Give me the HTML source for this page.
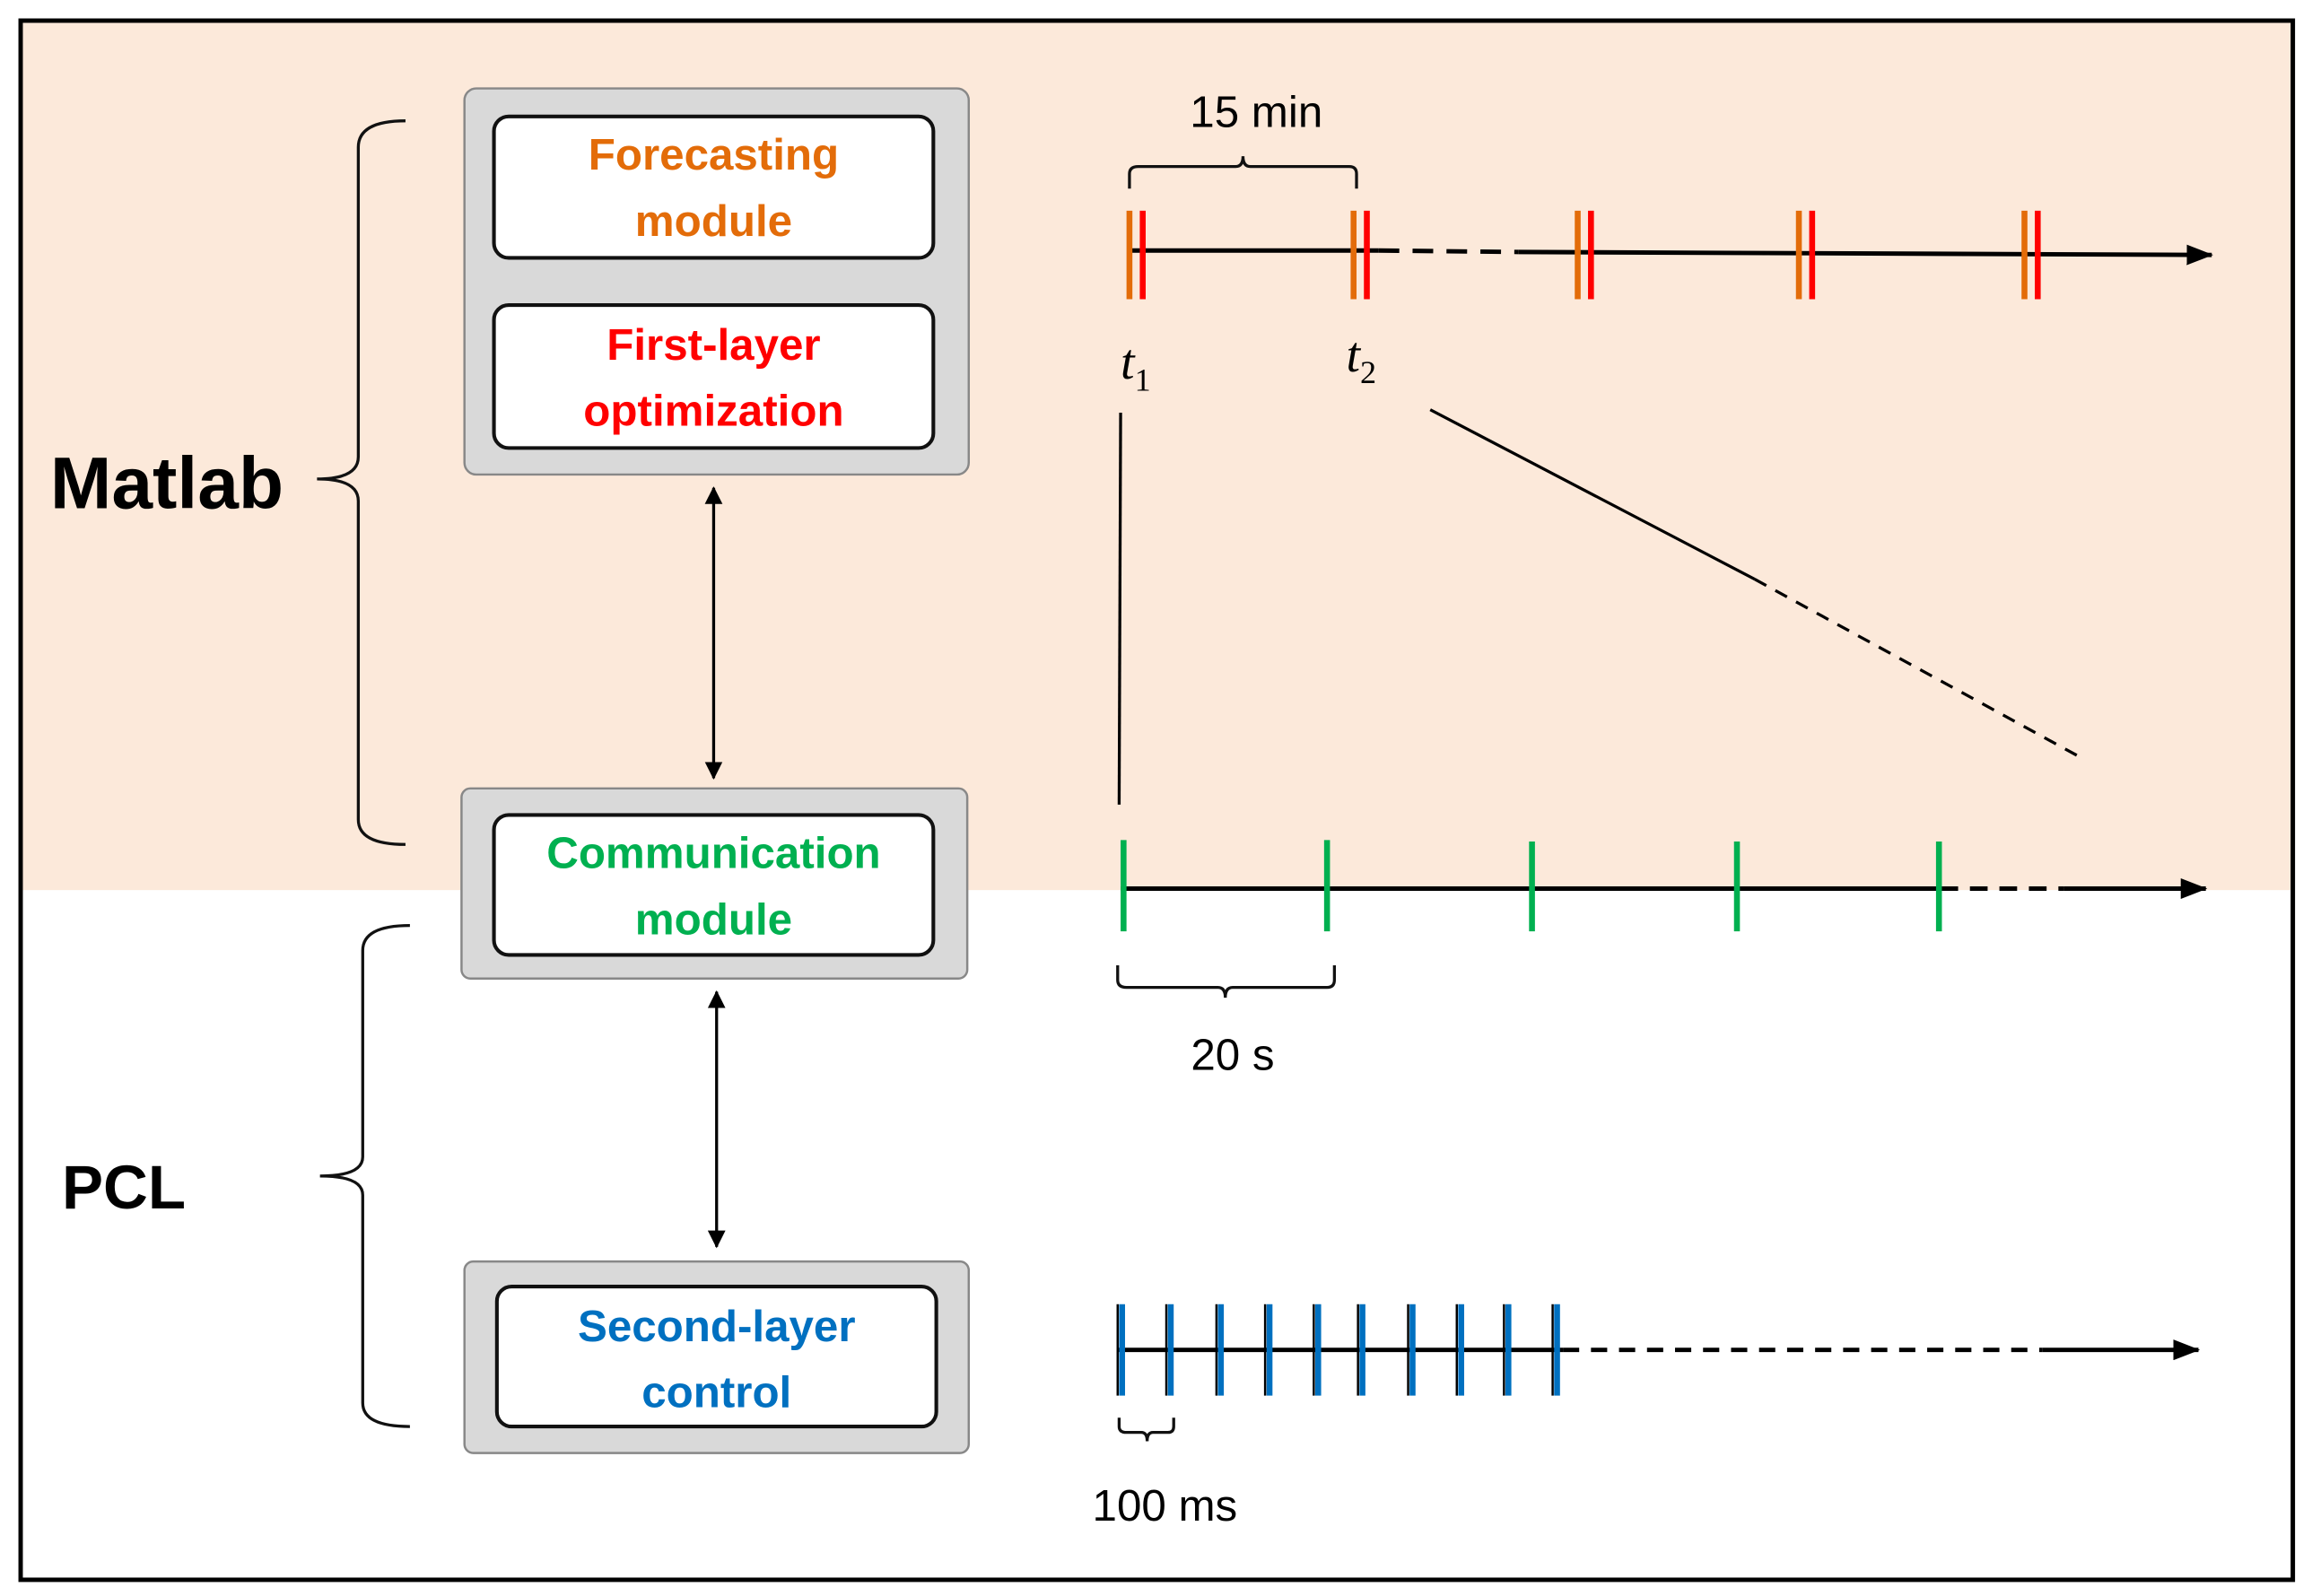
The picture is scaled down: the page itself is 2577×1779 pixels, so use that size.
<!DOCTYPE html>
<html><head><meta charset="utf-8"><style>html,body{margin:0;padding:0;background:#fff}svg{display:block}</style></head>
<body>
<svg width="2577" height="1779" viewBox="0 0 1568 1083" preserveAspectRatio="none" xmlns="http://www.w3.org/2000/svg" font-family="'Liberation Sans', sans-serif">
<defs>
<marker id="ah" markerWidth="12" markerHeight="12" refX="11" refY="6" orient="auto-start-reverse" markerUnits="userSpaceOnUse"><path d="M0,0 L12,6 L0,12 z" fill="#000"/></marker>
<marker id="ah2" markerWidth="18" markerHeight="14" refX="17" refY="7" orient="auto" markerUnits="userSpaceOnUse"><path d="M0,0 L18,7 L0,14 z" fill="#000"/></marker>
</defs>
<rect x="0" y="0" width="1568" height="1083" fill="#fff"/>
<rect x="14" y="14" width="1541" height="590" fill="#fce9da"/>
<rect x="14" y="14" width="1541" height="1058" fill="none" stroke="#000" stroke-width="3"/>

<g stroke="#888" stroke-width="1.5" fill="#d9d9d9">
<rect x="315" y="60" width="342" height="262" rx="8"/>
<rect x="313" y="535" width="343" height="129" rx="6"/>
<rect x="315" y="856" width="342" height="130" rx="6"/>
</g>
<g stroke="#111" stroke-width="2.5" fill="#fff">
<rect x="335" y="79" width="298" height="96" rx="10"/>
<rect x="335" y="207" width="298" height="97" rx="10"/>
<rect x="335" y="553" width="298" height="95" rx="10"/>
<rect x="337" y="873" width="298" height="95" rx="10"/>
</g>
<g font-weight="bold" font-size="30" text-anchor="middle">
<text x="484" y="115" fill="#e36c09">Forecasting</text>
<text x="484" y="160" fill="#e36c09">module</text>
<text x="484" y="244" fill="#ff0000">First-layer</text>
<text x="484" y="289" fill="#ff0000">optimization</text>
<text x="484" y="589" fill="#00b050">Communication</text>
<text x="484" y="634" fill="#00b050">module</text>
<text x="486" y="910" fill="#0070c0">Second-layer</text>
<text x="486" y="955" fill="#0070c0">control</text>
</g>
<text x="34" y="345" font-size="50" font-weight="bold">Matlab</text>
<text x="42" y="820" font-size="42" font-weight="bold">PCL</text>

<g fill="none" stroke="#111" stroke-width="2">
<path d="M275,82 Q243,82 243,100 L243,310 Q243,325 215,325 Q243,325 243,340 L243,556 Q243,573 275,573"/>
<path d="M278,628 Q246,628 246,645 L246,785 Q246,798 217,798 Q246,798 246,811 L246,952 Q246,968 278,968"/>
</g>

<g stroke="#000" stroke-width="2">
<line x1="484" y1="331" x2="484" y2="528" marker-start="url(#ah)" marker-end="url(#ah)"/>
<line x1="486" y1="673" x2="486" y2="846" marker-start="url(#ah)" marker-end="url(#ah)"/>
</g>

<g stroke="#000" stroke-width="3">
<line x1="765" y1="170" x2="935" y2="170"/>
<line x1="935" y1="170" x2="1030" y2="171" stroke-dasharray="14,9"/>
<line x1="1030" y1="171" x2="1500" y2="173" marker-end="url(#ah2)"/>
</g>
<g stroke-width="4">
<g stroke="#e36c09"><line x1="766" y1="143" x2="766" y2="203"/><line x1="918" y1="143" x2="918" y2="203"/><line x1="1070" y1="143" x2="1070" y2="203"/><line x1="1220" y1="143" x2="1220" y2="203"/><line x1="1373" y1="143" x2="1373" y2="203"/></g>
<g stroke="#ff0000"><line x1="775" y1="143" x2="775" y2="203"/><line x1="927" y1="143" x2="927" y2="203"/><line x1="1079" y1="143" x2="1079" y2="203"/><line x1="1229" y1="143" x2="1229" y2="203"/><line x1="1382" y1="143" x2="1382" y2="203"/></g>
</g>
<path d="M766,128 L766,118 Q766,113 772,113 L838,113 Q843,113 843,106 Q843,113 848,113 L915,113 Q920,113 920,118 L920,128" fill="none" stroke="#111" stroke-width="2"/>
<text x="852" y="86" font-size="30" text-anchor="middle">15 min</text>
<text x="760" y="257" font-size="34" font-style="italic" font-family="'Liberation Serif', serif">t<tspan font-size="22" dy="8" font-style="normal">1</tspan></text>
<text x="913" y="252" font-size="34" font-style="italic" font-family="'Liberation Serif', serif">t<tspan font-size="22" dy="8" font-style="normal">2</tspan></text>
<g stroke="#000" stroke-width="2">
<line x1="760" y1="280" x2="759" y2="546"/>
<line x1="970" y1="278" x2="1190" y2="393"/>
<line x1="1190" y1="393" x2="1413" y2="515" stroke-dasharray="9,7"/>
</g>

<g stroke="#000" stroke-width="3">
<line x1="760" y1="603" x2="1316" y2="603"/>
<line x1="1316" y1="603" x2="1400" y2="603" stroke-dasharray="12,8"/>
<line x1="1400" y1="603" x2="1496" y2="603" marker-end="url(#ah2)"/>
</g>
<g stroke="#00b050" stroke-width="4">
<line x1="762" y1="570" x2="762" y2="632"/><line x1="900" y1="570" x2="900" y2="632"/><line x1="1039" y1="571" x2="1039" y2="632"/><line x1="1178" y1="571" x2="1178" y2="632"/><line x1="1315" y1="571" x2="1315" y2="632"/>
</g>
<path d="M758,655 L758,665 Q758,670 764,670 L826,670 Q831,670 831,677 Q831,670 836,670 L900,670 Q905,670 905,665 L905,655" fill="none" stroke="#111" stroke-width="2"/>
<text x="836" y="726" font-size="30" text-anchor="middle">20 s</text>

<g stroke="#000" stroke-width="3">
<line x1="758" y1="916" x2="1060" y2="916"/>
<line x1="1060" y1="916" x2="1385" y2="916" stroke-dasharray="11,8"/>
<line x1="1385" y1="916" x2="1491" y2="916" marker-end="url(#ah2)"/>
</g>
<g stroke="#0070c0" stroke-width="4">
<line x1="761" y1="885" x2="761" y2="947"/><line x1="794" y1="885" x2="794" y2="947"/><line x1="828" y1="885" x2="828" y2="947"/><line x1="861" y1="885" x2="861" y2="947"/><line x1="894" y1="885" x2="894" y2="947"/><line x1="924" y1="885" x2="924" y2="947"/><line x1="958" y1="885" x2="958" y2="947"/><line x1="991" y1="885" x2="991" y2="947"/><line x1="1023" y1="885" x2="1023" y2="947"/><line x1="1056" y1="885" x2="1056" y2="947"/>
</g>
<g stroke="#000" stroke-width="1.5">
<line x1="758" y1="885" x2="758" y2="947"/><line x1="791" y1="885" x2="791" y2="947"/><line x1="825" y1="885" x2="825" y2="947"/><line x1="858" y1="885" x2="858" y2="947"/><line x1="891" y1="885" x2="891" y2="947"/><line x1="921" y1="885" x2="921" y2="947"/><line x1="955" y1="885" x2="955" y2="947"/><line x1="988" y1="885" x2="988" y2="947"/><line x1="1020" y1="885" x2="1020" y2="947"/><line x1="1053" y1="885" x2="1053" y2="947"/>
</g>
<path d="M759,962 L759,968 Q759,972 764,972 L774,972 Q778,972 778,978 Q778,972 782,972 L792,972 Q796,972 796,968 L796,962" fill="none" stroke="#111" stroke-width="2"/>
<text x="790" y="1032" font-size="30" text-anchor="middle">100 ms</text>
</svg>
</body></html>
